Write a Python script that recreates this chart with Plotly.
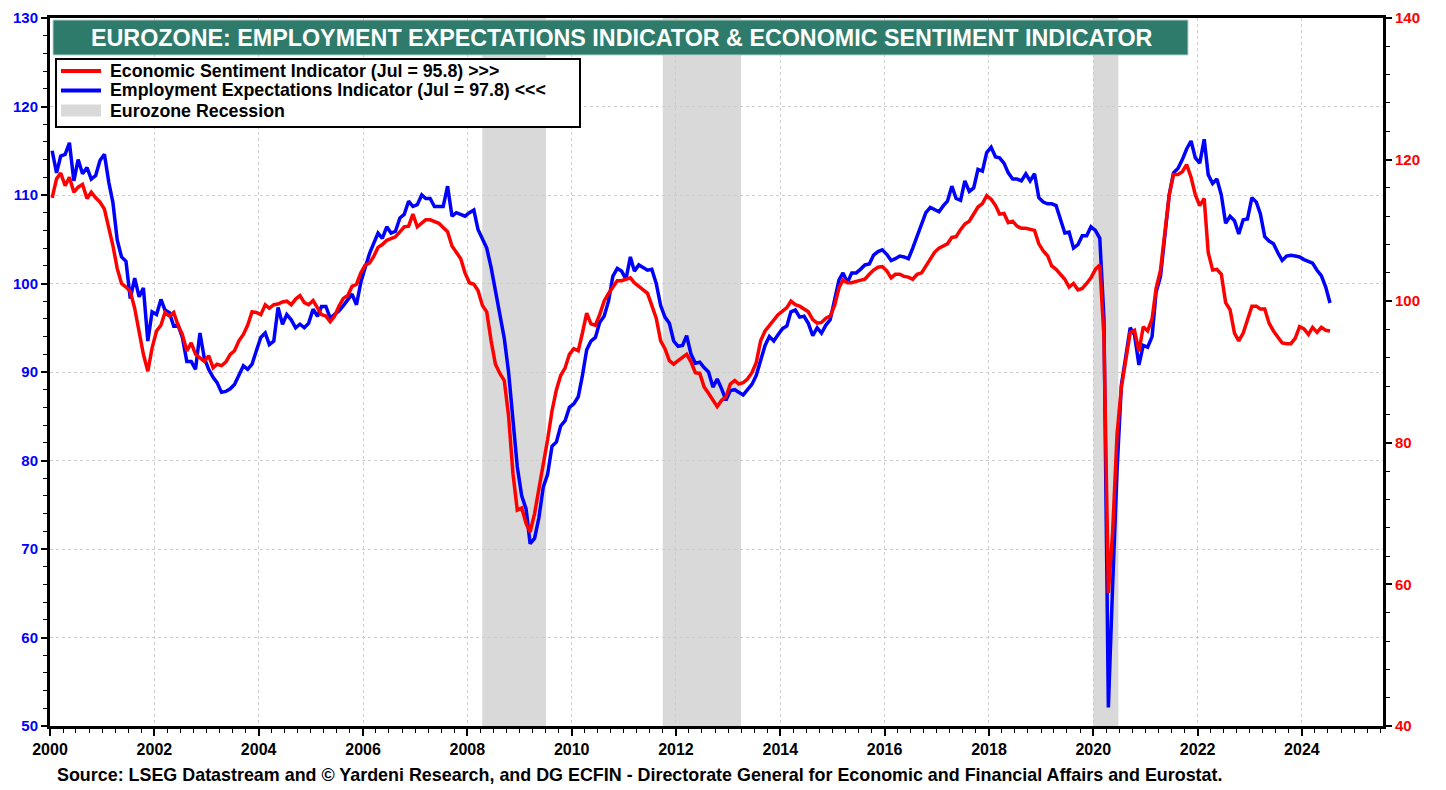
import pandas as pd
import plotly.graph_objects as go

# Employment Expectations Indicator (left axis), monthly from Jan 2000 to Jul 2024
eei = [
    115.0, 112.5, 114.4, 114.6, 115.9, 111.6, 114.0, 112.4, 113.1, 111.8, 112.2, 113.9,  # 2000
    114.6, 111.4, 109.2, 104.9, 103.0, 102.5, 98.3, 100.6, 98.5, 99.5, 93.5, 96.8,      # 2001
    96.5, 98.2, 97.0, 96.7, 95.2, 95.3, 93.9, 91.2, 91.2, 90.3, 94.4, 91.6,             # 2002
    90.3, 89.4, 88.8, 87.7, 87.8, 88.1, 88.6, 89.7, 90.7, 90.3, 90.9, 92.4,             # 2003
    93.9, 94.4, 93.1, 93.5, 97.3, 95.4, 96.5, 95.9, 95.0, 95.4, 95.0, 95.5,             # 2004
    97.1, 96.3, 97.4, 97.4, 96.1, 96.5, 96.9, 97.5, 98.2, 98.8, 97.6, 100.1,            # 2005
    101.8, 103.4, 104.5, 105.7, 105.1, 106.4, 105.7, 105.9, 107.4, 107.8, 109.3, 108.7, # 2006
    108.9, 110.0, 109.6, 109.6, 108.7, 108.7, 108.7, 111.0, 107.6, 108.0, 107.8, 107.6, # 2007
    108.0, 108.3, 106.1, 105.0, 104.0, 101.8, 99.1, 96.8, 93.8, 90.0, 85.0, 79.3,       # 2008
    76.0, 74.5, 70.6, 71.2, 73.5, 77.0, 78.4, 81.6, 82.1, 83.9, 84.5, 86.0,             # 2009
    86.4, 87.2, 89.5, 92.5, 93.5, 93.9, 95.6, 96.3, 98.0, 100.8, 101.7, 101.4,          # 2010
    100.5, 103.0, 101.4, 102.1, 101.8, 101.5, 101.6, 100.0, 97.5, 96.2, 95.5, 93.5,     # 2011
    92.9, 93.0, 94.1, 92.0, 91.0, 91.1, 90.5, 90.0, 88.3, 89.2, 88.1, 86.8,             # 2012
    87.9, 88.0, 87.7, 87.4, 88.0, 88.6, 89.6, 91.3, 93.0, 94.0, 93.5, 94.2,             # 2013
    94.9, 95.2, 96.8, 97.0, 96.2, 96.3, 95.5, 94.1, 95.0, 94.4, 95.3, 95.9,             # 2014
    98.0, 100.4, 101.2, 100.1, 101.2, 101.2, 101.6, 102.1, 102.2, 103.2, 103.6, 103.8,  # 2015
    103.3, 102.6, 102.8, 103.1, 103.0, 102.8, 104.0, 105.3, 106.7, 108.0, 108.6, 108.3, # 2016
    108.1, 108.8, 109.3, 111.0, 109.6, 109.4, 111.6, 110.4, 110.8, 112.9, 112.7, 114.8, # 2017
    115.4, 114.3, 114.2, 113.6, 112.5, 111.8, 111.8, 111.6, 112.4, 111.6, 112.4, 109.7, # 2018
    109.2, 109.0, 109.0, 108.8, 107.3, 105.7, 105.8, 104.0, 104.4, 105.4, 105.4, 106.4, # 2019
    106.0, 105.1, 96.0, 52.1, 66.0, 79.0, 88.5, 91.6, 95.0, 94.2, 90.8, 93.0,           # 2020
    92.8, 94.0, 99.0, 100.8, 105.0, 110.0, 112.5, 113.0, 114.0, 115.2, 116.1, 114.2,    # 2021
    113.6, 116.3, 112.3, 111.3, 111.8, 110.0, 106.8, 107.6, 107.1, 105.6, 107.2, 107.3, # 2022
    109.7, 109.2, 107.9, 105.3, 104.8, 104.5, 103.5, 102.6, 103.1, 103.2, 103.1, 103.0, # 2023
    102.7, 102.5, 102.3, 101.5, 100.9, 99.6, 97.8,                                      # 2024
]

# Economic Sentiment Indicator (right axis), monthly from Jan 2000 to Jul 2024
esi = [
    114.6, 117.3, 118.1, 116.3, 117.5, 115.4, 116.1, 116.5, 114.5, 115.4, 114.6, 114.0, # 2000
    113.0, 110.3, 107.9, 104.6, 102.5, 102.0, 101.4, 99.0, 95.8, 92.5, 90.1, 93.4,      # 2001
    95.8, 96.6, 98.4, 97.9, 98.4, 96.6, 95.3, 93.0, 94.1, 92.5, 92.0, 91.5,             # 2002
    92.3, 90.6, 91.1, 90.9, 91.4, 92.5, 93.0, 94.4, 95.3, 96.6, 98.5, 98.4,             # 2003
    98.1, 99.5, 99.0, 99.5, 99.6, 99.9, 100.0, 99.5, 100.3, 100.8, 99.8, 99.5,          # 2004
    100.1, 99.0, 98.1, 97.9, 97.1, 97.9, 99.3, 100.4, 100.8, 102.1, 102.4, 104.0,       # 2005
    105.1, 105.4, 106.3, 107.6, 108.0, 108.6, 108.9, 109.1, 109.8, 110.5, 110.6, 112.3, # 2006
    110.5, 111.0, 111.5, 111.5, 111.3, 111.0, 110.4, 109.8, 107.8, 107.0, 106.0, 104.0, # 2007
    102.6, 102.4, 101.5, 99.4, 98.5, 94.4, 91.1, 89.8, 88.8, 83.8, 75.6, 70.5,          # 2008
    70.8, 68.6, 67.4, 70.0, 73.8, 77.0, 80.4, 84.5, 87.5, 89.5, 90.6, 92.5,             # 2009
    93.3, 93.0, 95.4, 98.3, 96.8, 96.6, 98.1, 100.0, 101.1, 101.9, 102.9, 102.9,        # 2010
    103.1, 103.3, 102.6, 102.1, 101.6, 101.1, 99.4, 97.6, 94.4, 93.3, 91.6, 91.1,       # 2011
    91.6, 92.0, 92.5, 91.4, 89.9, 89.8, 87.9, 87.0, 86.1, 85.1, 86.0, 86.5,             # 2012
    88.3, 88.8, 88.3, 88.5, 89.0, 89.9, 91.3, 94.4, 95.8, 96.5, 97.4, 98.1,             # 2013
    98.6, 99.1, 100.0, 99.5, 99.3, 98.9, 98.5, 97.4, 96.9, 97.0, 97.6, 97.9,            # 2014
    99.4, 101.9, 103.0, 102.6, 102.6, 102.8, 102.9, 103.1, 103.8, 104.4, 104.8, 104.9,  # 2015
    104.3, 103.3, 103.8, 103.8, 103.5, 103.4, 103.1, 103.8, 104.0, 105.0, 105.8, 106.9, # 2016
    107.5, 107.8, 108.1, 109.0, 109.1, 110.1, 110.9, 111.3, 112.3, 113.3, 113.8, 114.9, # 2017
    114.4, 113.5, 112.3, 112.4, 111.1, 111.3, 110.6, 110.3, 110.3, 110.1, 110.0, 108.1, # 2018
    107.1, 106.4, 105.0, 104.5, 103.8, 103.1, 102.0, 102.5, 101.6, 101.8, 102.5, 103.3, # 2019
    104.5, 105.1, 95.0, 58.8, 67.5, 81.3, 87.8, 91.9, 95.6, 95.9, 92.9, 96.4,           # 2020
    95.8, 97.5, 101.8, 104.4, 109.4, 115.0, 117.9, 117.9, 118.3, 119.3, 117.5, 115.0,   # 2021
    113.5, 114.5, 106.9, 104.4, 104.5, 103.8, 99.8, 98.8, 95.5, 94.4, 95.5, 97.4,       # 2022
    99.3, 99.3, 98.9, 98.9, 96.9, 95.8, 94.9, 94.1, 94.0, 94.0, 94.8, 96.4,             # 2023
    96.1, 95.3, 96.3, 95.6, 96.3, 95.9, 95.8,                                           # 2024
]

recession_starts = ["2008-04-15", "2011-10-01", "2020-01-01"]
recession_ends = ["2009-07-05", "2013-04-01", "2020-06-25"]

left_ticks = [50, 60, 70, 80, 90, 100, 110, 120, 130]
right_ticks = [40, 60, 80, 100, 120, 140]

title_text = "EUROZONE: EMPLOYMENT EXPECTATIONS INDICATOR & ECONOMIC SENTIMENT INDICATOR"
source_text = ("Source: LSEG Datastream and © Yardeni Research, and DG ECFIN - Directorate General "
               "for Economic and Financial Affairs and Eurostat.")
legend_names = [
    "Economic Sentiment Indicator (Jul = 95.8) >>>",
    "Employment Expectations Indicator (Jul = 97.8) <<<",
    "Eurozone Recession",
]
RED, BLUE, GREY = "#ff0000", "#0000ff", "#d9d9d9"

dates = pd.date_range("2000-01-01", periods=len(eei), freq="MS") + pd.Timedelta(days=15)

FONT = "Liberation Sans, Arial, sans-serif"
OFF = 8                      # page body margin of the written html page
W, H = 1446 - OFF, 790 - OFF
L, T = 50 - OFF, 18 - OFF    # plot area starts at page (50, 18)
R = W - (1383 - OFF)         # plot area ends at page x = 1383
B = H - (726 - OFF)          # plot area ends at page y = 726
PW, PH = W - L - R, H - T - B


def px_x(x):
    """page x pixel -> paper coordinate"""
    return (x - OFF - L) / PW


def px_y(y):
    """page y pixel -> paper coordinate"""
    return 1 - (y - OFF - T) / PH


fig = go.Figure()

fig.add_trace(go.Scatter(
    x=dates, y=eei, mode="lines", name=legend_names[1], showlegend=False,
    line=dict(color=BLUE, width=3.5), yaxis="y",
))
fig.add_trace(go.Scatter(
    x=dates, y=esi, mode="lines", name=legend_names[0], showlegend=False,
    line=dict(color=RED, width=3.5), yaxis="y2",
))

shapes = []
for s, e in zip(recession_starts, recession_ends):
    shapes.append(dict(type="rect", xref="x", yref="paper", x0=s, x1=e, y0=0, y1=1,
                       fillcolor=GREY, line=dict(width=0), layer="below"))

# title banner
shapes.append(dict(type="rect", xref="paper", yref="paper",
                   x0=px_x(53), x1=px_x(1188), y0=px_y(55), y1=px_y(20),
                   fillcolor="#2e7b6c", line=dict(color="#b9d3cc", width=1), layer="above"))

# legend box
shapes.append(dict(type="rect", xref="paper", yref="paper",
                   x0=px_x(56), x1=px_x(580), y0=px_y(127), y1=px_y(59),
                   fillcolor="white", line=dict(color="black", width=2), layer="above"))
row_y = [71, 90.5, 110.5]
shapes.append(dict(type="line", xref="paper", yref="paper", x0=px_x(61), x1=px_x(101),
                   y0=px_y(row_y[0]), y1=px_y(row_y[0]), line=dict(color=RED, width=4), layer="above"))
shapes.append(dict(type="line", xref="paper", yref="paper", x0=px_x(61), x1=px_x(101),
                   y0=px_y(row_y[1]), y1=px_y(row_y[1]), line=dict(color=BLUE, width=4), layer="above"))
shapes.append(dict(type="rect", xref="paper", yref="paper", x0=px_x(61), x1=px_x(101),
                   y0=px_y(row_y[2] + 6), y1=px_y(row_y[2] - 6), fillcolor=GREY,
                   line=dict(width=0), layer="above"))

annotations = [
    dict(text=title_text, xref="paper", yref="paper", x=px_x(622), y=px_y(37.5),
         xanchor="center", yanchor="middle", showarrow=False,
         font=dict(family=FONT, size=23.3, color="white", weight="bold")),
    dict(text=source_text, xref="paper", yref="paper", x=px_x(55), y=px_y(775),
         xanchor="left", yanchor="middle", showarrow=False,
         font=dict(family=FONT, size=17.9, color="black", weight="bold")),
]
for name, ry in zip(legend_names, row_y):
    annotations.append(dict(text=name, xref="paper", yref="paper", x=px_x(108), y=px_y(ry),
                            xanchor="left", yanchor="middle", showarrow=False,
                            font=dict(family=FONT, size=17.8, color="black", weight="bold")))

fig.update_layout(
    width=W, height=H,
    margin=dict(l=L, r=R, t=T, b=B, pad=0),
    paper_bgcolor="white", plot_bgcolor="white",
    font=dict(family=FONT, color="black"),
    shapes=shapes, annotations=annotations,
    showlegend=False,
    xaxis=dict(
        type="date", range=["2000-01-01", "2025-07-22"], automargin=False,
        tick0="2000-01-01", dtick="M24", tickformat="%Y", ticklabeloverflow="allow",
        showline=True, linecolor="black", linewidth=3, mirror=True,
        ticks="outside", ticklen=7, tickwidth=1.5, tickcolor="black",
        tickfont=dict(family=FONT, size=16, color="black", weight="bold"),
        showgrid=True, gridcolor="#cccccc", griddash="dot", gridwidth=1,
        minor=dict(dtick="M3", tick0="2000-01-01", ticks="outside", ticklen=4,
                   tickcolor="black", tickwidth=1, showgrid=False),
        zeroline=False,
    ),
    yaxis=dict(
        range=[50, 130], tickvals=left_ticks, automargin=False, ticklabeloverflow="allow",
        showline=True, linecolor="black", linewidth=3,
        ticks="outside", ticklen=6, tickwidth=1.5, tickcolor="black",
        tickfont=dict(family=FONT, size=15, color=BLUE, weight="bold"),
        showgrid=True, gridcolor="#cccccc", griddash="dot", gridwidth=1,
        minor=dict(dtick=2, tick0=50, ticks="outside", ticklen=4,
                   tickcolor="black", tickwidth=1, showgrid=False),
        zeroline=False,
    ),
    yaxis2=dict(
        range=[40, 140], tickvals=right_ticks, overlaying="y", side="right",
        automargin=False, ticklabeloverflow="allow",
        showline=True, linecolor="black", linewidth=3,
        ticks="outside", ticklen=6, tickwidth=1.5, tickcolor="black",
        tickfont=dict(family=FONT, size=15, color=RED, weight="bold"),
        showgrid=False,
        minor=dict(dtick=4, tick0=40, ticks="outside", ticklen=4,
                   tickcolor="black", tickwidth=1, showgrid=False),
        zeroline=False,
    ),
)

fig.write_html("out.html")
